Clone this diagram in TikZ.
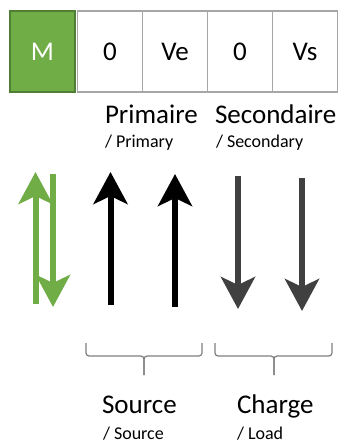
\documentclass[tikz,border=0pt]{standalone}
\usepackage{fontspec}
\setmainfont{Carlito}
\usetikzlibrary{arrows.meta}
\definecolor{mgreen}{HTML}{70AD47}
\definecolor{mgreendark}{HTML}{507E32}
\definecolor{cellgray}{HTML}{A6A6A6}
\definecolor{arrowgray}{HTML}{404040}
\definecolor{bracegray}{HTML}{7F7F7F}
\newcommand{\bigtxt}{\fontsize{27}{30}\selectfont}
\newcommand{\smalltxt}{\fontsize{18}{20}\selectfont}
\begin{document}
\begin{tikzpicture}[x=1pt,y=-1pt,
	every node/.style={inner sep=0,outer sep=0},
	cell/.style={draw=cellgray,line width=1.5pt,fill=white,minimum width=65pt,minimum height=81pt,font=\bigtxt},
	title/.style={anchor=base west,font=\bigtxt},
	subtitle/.style={anchor=base west,font=\smalltxt},
	bigarrow/.style={line width=6pt,-{Stealth[length=32pt,width=34pt,inset=8pt]}},
	brace/.style={draw=bracegray,line width=1.2pt,rounded corners=3pt}]
	\useasboundingbox (0,0) rectangle (344,443);
	% register
	\node[cell,draw=mgreendark,fill=mgreen,text=white] (m) at (42.5,51.5) {M};
	\node[cell] (z1) at (110,51.5) {0};
	\node[cell] (ve) at (175,51.5) {Ve};
	\node[cell] (z2) at (240,51.5) {0};
	\node[cell] (vs) at (305,51.5) {Vs};
	% labels
	\node[title] (prim) at (105,124) {Primaire};
	\node[subtitle] (primen) at (105,148) {/ Primary};
	\node[title] (sec) at (215,124) {Secondaire};
	\node[subtitle] (secen) at (216,148) {/ Secondary};
	% arrows
	\coordinate (g1) at (35.5,304);
	\coordinate (g1t) at (35.5,172);
	\coordinate (g2) at (53,174);
	\coordinate (g2t) at (53,307);
	\coordinate (b1) at (110.5,305);
	\coordinate (b1t) at (110.5,172);
	\coordinate (b2) at (175,307);
	\coordinate (b2t) at (175,174);
	\coordinate (d1) at (238,176);
	\coordinate (d1t) at (238,309);
	\coordinate (d2) at (302,178);
	\coordinate (d2t) at (302,311);
	\draw[bigarrow,mgreen] (g1) -- (g1t);
	\draw[bigarrow,mgreen] (g2) -- (g2t);
	\draw[bigarrow,black] (b1) -- (b1t);
	\draw[bigarrow,black] (b2) -- (b2t);
	\draw[bigarrow,arrowgray] (d1) -- (d1t);
	\draw[bigarrow,arrowgray] (d2) -- (d2t);
	% braces
	\draw[brace] (86,343) |- (144,356) -- (144,375);
	\draw[brace] (202,343) |- (144,356) -- (144,375);
	\draw[brace] (215,343) |- (274,356) -- (274,375);
	\draw[brace] (332,343) |- (274,356) -- (274,375);
	\node[title] (src) at (102,413) {Source};
	\node[subtitle] (srcen) at (103,439) {/ Source};
	\node[title] (chg) at (237,413) {Charge};
	\node[subtitle] (chgen) at (237,439) {/ Load};
\end{tikzpicture}
\end{document}
